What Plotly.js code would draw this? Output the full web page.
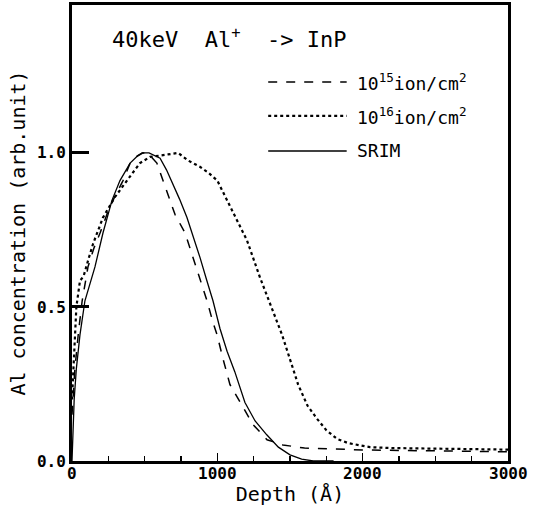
<!DOCTYPE html>
<html><head><meta charset="utf-8">
<script src="https://cdn.plot.ly/plotly-3.0.1.min.js"></script>
<style>body{margin:0;background:#fff}#c{width:535px;height:511px}</style>
</head><body><div id="c"></div>
<script>
// SRIM simulation
const srimDepth = [0,8,15,30,55,89,120,158,213,275,330,400,450,482,530,606,650,695,740,791,835,881,925,970,1018,1067,1120,1190,1260,1340,1420,1500,1580,1660,1800];
const srimVal   = [0,0.1,0.2,0.3,0.41,0.52,0.57,0.63,0.74,0.846,0.91,0.967,0.99,1.0,1.0,0.983,0.945,0.90,0.85,0.79,0.73,0.66,0.59,0.52,0.43,0.356,0.29,0.19,0.13,0.085,0.045,0.02,0.006,0.0,0.0];
// 1e15 ion/cm2
const d15Depth = [0,20,45,70,110,150,193,240,282,351,400,450,489,530,584,654,709,778,820,860,929,970,998,1040,1087,1170,1246,1342,1452,1600,1800,2000,2300,2600,3000];
const d15Val   = [0.15,0.3,0.42,0.52,0.63,0.69,0.74,0.8,0.846,0.91,0.967,0.99,1.0,0.995,0.967,0.87,0.80,0.74,0.68,0.62,0.52,0.45,0.41,0.33,0.248,0.18,0.118,0.069,0.052,0.042,0.038,0.036,0.034,0.032,0.03];
// 1e16 ion/cm2
const d16Depth = [0,15,30,55,80,110,145,213,296,378,468,537,600,660,730,800,880,940,1000,1067,1140,1204,1294,1370,1445,1500,1556,1620,1686,1750,1823,1900,1960,2050,2200,2500,2800,3000];
const d16Val   = [0.2,0.35,0.5,0.585,0.6,0.65,0.705,0.79,0.857,0.91,0.967,0.987,0.99,0.995,1.0,0.975,0.955,0.935,0.91,0.846,0.78,0.716,0.595,0.5,0.41,0.33,0.248,0.18,0.137,0.1,0.072,0.058,0.052,0.045,0.042,0.04,0.038,0.037];

const xTickVals = [0,1000,2000,3000];
const xTickText = ['0','1000','2000','3000'];
const yTickVals = [0,0.5,1.0];
const yTickText = ['0.0','0.5','1.0'];

const seriesNames = ['10<sup>15</sup>ion/cm<sup>2</sup>','10<sup>16</sup>ion/cm<sup>2</sup>','SRIM'];

const mono = 'DejaVu Sans Mono, monospace';
const traces = [
  {x:d15Depth, y:d15Val, mode:'lines', line:{color:'#000', width:1.5, dash:'dash'}, name:seriesNames[0]},
  {x:d16Depth, y:d16Val, mode:'lines', line:{color:'#000', width:2.2, dash:'dot'}, name:seriesNames[1]},
  {x:srimDepth, y:srimVal, mode:'lines', line:{color:'#000', width:1.3}, name:seriesNames[2]}
];

const legY = [0.831, 0.757, 0.680];
const legDash = ['dash','dot','solid'];
const legW = [1.5, 2.2, 1.5];
const shapes = [], annotations = [];
for (let i=0;i<3;i++){
  shapes.push({type:'line', xref:'paper', yref:'paper', x0:0.45, x1:0.63, y0:legY[i], y1:legY[i], line:{color:'#000', width:legW[i], dash:legDash[i]}});
  annotations.push({xref:'paper', yref:'paper', x:0.649, y:legY[i], xanchor:'left', yanchor:'middle', showarrow:false, text:seriesNames[i], font:{family:mono, size:18, color:'#000'}});
}
annotations.push({xref:'paper', yref:'paper', x:0.087, y:0.928, xanchor:'left', yanchor:'middle', showarrow:false,
  text:'40keV  Al<sup>+</sup>  -> InP', font:{family:mono, size:22, color:'#000'}});
// x tick labels placed close under the axis
xTickVals.forEach((v,i)=>{
  annotations.push({xref:'x', yref:'paper', x:v, y:0, xanchor:'center', yanchor:'top', yshift:-1, showarrow:false,
    text:'<b>'+xTickText[i]+'</b>', font:{family:mono, size:16, color:'#000'}});
});

const layout = {
  width:535, height:511,
  margin:{l:72, r:27, t:5, b:50},
  paper_bgcolor:'#fff', plot_bgcolor:'#fff',
  showlegend:false,
  xaxis:{range:[0,3000], showgrid:false, zeroline:false, showline:true, mirror:true, linewidth:3, linecolor:'#000',
    tickmode:'array', tickvals:xTickVals, ticks:'inside', ticklen:8, tickwidth:1.5, tickcolor:'#000', showticklabels:false,
    minor:{dtick:250, ticks:'inside', ticklen:5, tickwidth:1.2, tickcolor:'#000'},
    title:{text:'Depth (Å)', font:{family:mono, size:20, color:'#000'}, standoff:24}},
  yaxis:{range:[0,1.48], showgrid:false, zeroline:false, showline:true, mirror:true, linewidth:3, linecolor:'#000',
    tickmode:'array', tickvals:yTickVals, ticktext:yTickText, ticks:'inside', ticklen:17, tickwidth:3, tickcolor:'#000',
    tickfont:{family:mono, size:16, color:'#000', weight:'bold'}, ticklabelstandoff:0,
    title:{text:'Al concentration (arb.unit)', font:{family:mono, size:20, color:'#000'}, standoff:6}},
  shapes:shapes, annotations:annotations
};
Plotly.newPlot('c', traces, layout, {displayModeBar:false, staticPlot:true});
</script></body></html>
